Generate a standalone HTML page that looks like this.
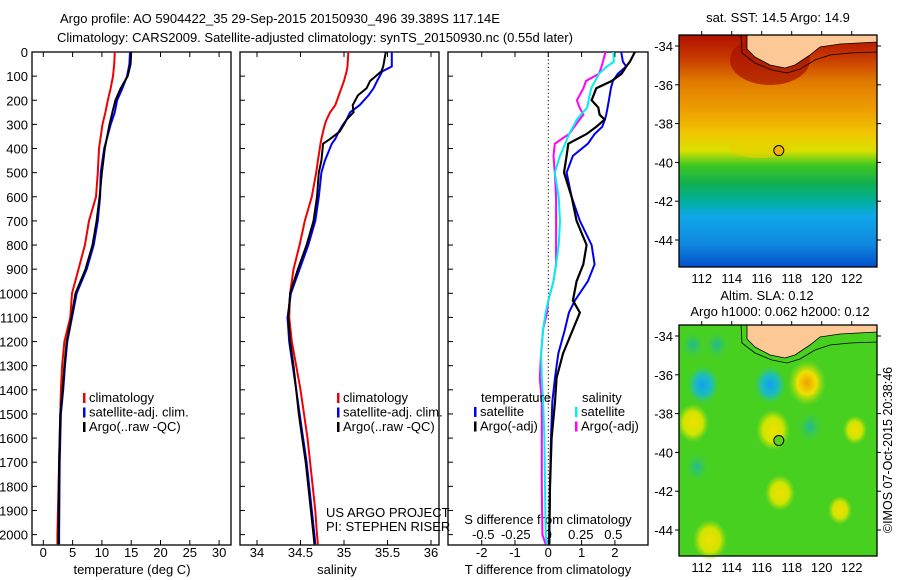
<!DOCTYPE html>
<html><head><meta charset="utf-8"><style>
html,body{margin:0;padding:0;background:#fff}
svg{display:block;font-family:"Liberation Sans",sans-serif}
</style></head><body>
<svg id="fig" width="900" height="580" viewBox="0 0 900 580" xmlns="http://www.w3.org/2000/svg">
<defs>
<linearGradient id="sstg" x1="0" y1="0" x2="0" y2="1">
<stop offset="0" stop-color="#b01000"/>
<stop offset="0.1" stop-color="#c83a00"/>
<stop offset="0.2" stop-color="#e07a00"/>
<stop offset="0.33" stop-color="#eea000"/>
<stop offset="0.43" stop-color="#f0c800"/>
<stop offset="0.5" stop-color="#d8e000"/>
<stop offset="0.56" stop-color="#40c820"/>
<stop offset="0.64" stop-color="#10b050"/>
<stop offset="0.72" stop-color="#00b0a0"/>
<stop offset="0.78" stop-color="#10a8e8"/>
<stop offset="0.9" stop-color="#1088e0"/>
<stop offset="1" stop-color="#0050c8"/>
</linearGradient>
<radialGradient id="bblue"><stop offset="0" stop-color="#10a0f8"/><stop offset="0.55" stop-color="#20c0b0"/><stop offset="1" stop-color="#40d030" stop-opacity="0"/></radialGradient>
<radialGradient id="bteal"><stop offset="0" stop-color="#20b8a0"/><stop offset="1" stop-color="#40d030" stop-opacity="0"/></radialGradient>
<radialGradient id="byel"><stop offset="0" stop-color="#f0e000"/><stop offset="0.6" stop-color="#d0e400"/><stop offset="1" stop-color="#a0e010" stop-opacity="0"/></radialGradient>
<radialGradient id="borg"><stop offset="0" stop-color="#f0a000"/><stop offset="0.5" stop-color="#f0e000"/><stop offset="1" stop-color="#a0e010" stop-opacity="0"/></radialGradient>
</defs>
<g id="titles" font-size="13" fill="#000">
<text x="60" y="23">Argo profile: AO 5904422_35 29-Sep-2015 20150930_496 39.389S 117.14E</text>
<text x="57" y="42">Climatology: CARS2009. Satellite-adjusted climatology: synTS_20150930.nc (0.55d later)</text>
<text x="778" y="22" text-anchor="middle">sat. SST: 14.5  Argo: 14.9</text>
<text x="767" y="300" text-anchor="middle">Altim. SLA: 0.12</text>
<text x="780" y="316" text-anchor="middle">Argo h1000: 0.062 h2000: 0.12</text>
<text transform="translate(892,450) rotate(-90)" text-anchor="middle" font-size="12.5">©IMOS 07-Oct-2015 20:38:46</text>
</g>
<g id="panels"></g>
<g id="maps"></g>
</svg>
<script>
// ---- data ----
const depthsT = [0,50,100,150,200,250,300,400,500,600,700,800,900,1000,1100,1200,1300,1400,1500,1700,2000,2040];
const tempClim = [12.2,12.1,11.9,11.5,11.0,10.6,10.1,9.5,9.3,9.0,7.8,7.1,6.0,4.9,4.6,3.6,3.2,3.0,2.9,2.7,2.4,2.4];
const tempSat  = [14.8,14.7,14.3,13.5,12.6,12.2,11.5,10.4,9.8,9.7,9.3,8.6,7.4,5.7,4.9,4.1,3.7,3.4,3.0,2.8,2.7,2.7];
const tempArgo = [15.0,14.9,14.4,13.2,12.3,11.8,11.3,10.5,10.0,9.6,9.1,8.4,7.2,5.5,4.8,4.0,3.6,3.3,2.9,2.7,2.6,2.6];
const depthsS = [0,60,80,120,150,180,220,250,280,300,330,360,380,450,500,600,700,800,900,1000,1100,1200,1300,1400,1500,1600,1700,1800,1900,2000,2040];
const salClim = [35.05,35.04,35.03,35.0,34.97,34.94,34.9,34.84,34.8,34.78,34.76,34.74,34.73,34.7,34.68,34.63,34.55,34.49,34.42,34.38,34.37,34.40,34.45,34.5,34.54,34.58,34.61,34.64,34.67,34.69,34.70];
const salSat  = [35.55,35.55,35.44,35.38,35.34,35.28,35.18,35.07,35.03,34.99,34.94,34.9,34.86,34.78,34.74,34.71,34.67,34.59,34.49,34.39,34.35,34.37,34.41,34.45,34.49,34.53,34.57,34.6,34.63,34.66,34.67];
const salArgo = [35.48,35.45,35.43,35.3,35.26,35.16,35.1,35.11,35.03,35.0,34.95,34.84,34.76,34.74,34.71,34.69,34.65,34.57,34.47,34.38,34.36,34.38,34.42,34.45,34.48,34.52,34.56,34.59,34.62,34.65,34.66];
const depthsD = [0,40,60,90,120,150,200,230,260,280,310,340,380,430,500,600,700,800,880,950,1030,1080,1150,1250,1350,1450,1600,1800,2000,2040];
const tdiffSat  = [2.19,2.24,2.34,2.09,1.94,1.88,1.82,1.78,1.74,1.7,1.62,1.39,1.19,0.74,0.55,0.7,0.95,1.3,1.39,1.19,0.8,0.62,0.5,0.3,0.2,0.12,0.08,0.05,0.03,0.03];
const tdiffArgo = [2.6,2.45,2.34,2.2,1.9,1.44,1.3,1.5,1.54,1.69,1.44,1.15,0.6,0.55,0.47,0.7,0.85,1.15,1.05,0.85,0.74,0.95,0.74,0.44,0.25,0.2,0.1,0.05,0.03,0.03];
const sdiffSat  = [0.5,0.505,0.45,0.39,0.36,0.33,0.31,0.3,0.25,0.22,0.19,0.16,0.13,0.09,0.05,0.08,0.09,0.08,0.06,0.04,0.0,-0.02,-0.04,-0.055,-0.05,-0.04,-0.03,-0.025,-0.02,-0.01];
const sdiffArgo = [0.44,0.42,0.41,0.39,0.29,0.27,0.22,0.24,0.27,0.24,0.2,0.16,0.05,0.04,0.05,0.06,0.06,0.06,0.06,0.04,0.0,-0.01,-0.04,-0.055,-0.065,-0.05,-0.05,-0.05,-0.045,-0.02];
const depthTicks = [0,100,200,300,400,500,600,700,800,900,1000,1100,1200,1300,1400,1500,1600,1700,1800,1900,2000];
const tempTicks = [0,5,10,15,20,25,30];
const salTicks = [34,34.5,35,35.5,36];
const salTickLabels = ["34","34.5","35","35.5","36"];
const tdiffTicks = [-2,-1,0,1,2];
const sdiffTicks = [-0.5,-0.25,0,0.25,0.5];
const sdiffTickLabels = ["-0.5","-0.25","0","0.25","0.5"];
const lonTicks = [112,114,116,118,120,122];
const latTicks = [-34,-36,-38,-40,-42,-44];

// ---- scales ----
const NS="http://www.w3.org/2000/svg";
const PT=52, PB=545;
const yD = d => PT + d*0.2413;
const xT = v => 43.3 + v*5.86;
const xS = v => 257 + (v-34)*87;
const xTd = v => 548.3 + v*33.3;
const xSd = v => 548.3 + v*130;
function el(tag, attrs, parent){const e=document.createElementNS(NS,tag);for(const k in attrs)e.setAttribute(k,attrs[k]);parent.appendChild(e);return e;}
const panels=document.getElementById('panels');
function txt(x,y,s,anchor,parent,size){const t=el('text',{x:x,y:y,'font-size':size||13,'text-anchor':anchor||'start'},parent);t.textContent=s;return t;}

function frame(x0,x1,name){
  const r=el('rect',{x:x0,y:PT,width:x1-x0,height:PB-PT,fill:'none',stroke:'#000','stroke-width':1.3},panels);
  
  
  depthTicks.forEach(d=>{el('line',{x1:x0,x2:x0+5,y1:yD(d),y2:yD(d),stroke:'#000'},panels);});
}
function line(xs, ys, xf, color, name, w){
  const pts=xs.map((v,i)=>xf(v).toFixed(1)+','+yD(ys[i]).toFixed(1)).join(' ');
  const p=el('polyline',{points:pts,fill:'none',stroke:color,'stroke-width':w||2},panels);
  
  
}
function xticks(x0,ticks,labels,xf,y,name){
  const g=el('g',{},panels);
  
  
  ticks.forEach((v,i)=>{
    el('line',{x1:xf(v),x2:xf(v),y1:PB,y2:PB-5,stroke:'#000'},g);
    el('line',{x1:xf(v),x2:xf(v),y1:PT,y2:PT+5,stroke:'#000'},g);
    txt(xf(v),y,labels[i],'middle',g);
  });
}
function legend(x,y,items){
  items.forEach((it,i)=>{
    el('rect',{x:x,y:y+i*14.5-9,width:2.5,height:10,fill:it[0]},panels);
    const t=txt(x+6,y+i*14.5,it[1],'start',panels);
    
    
  });
}
const dl=el('g',{},panels);


depthTicks.forEach(d=>txt(28,yD(d)+5,String(d),'end',dl));

frame(32,231,'temperature-panel');
xticks(32,tempTicks,tempTicks.map(String),xT,557,'temperature-x-ticks');
txt(132,574,'temperature (deg C)','middle',panels);
line(tempClim,depthsT,xT,'#f00000','temp-climatology-line');
line(tempSat,depthsT,xT,'#0000f0','temp-satellite-line');
line(tempArgo,depthsT,xT,'#000','temp-argo-line');
legend(83,402,[['#f00000','climatology'],['#0000f0','satellite-adj. clim.'],['#000','Argo(..raw -QC)']]);

frame(240,439,'salinity-panel');
xticks(240,salTicks,salTickLabels,xS,557,'salinity-x-ticks');
txt(337,574,'salinity','middle',panels);
line(salClim,depthsS,xS,'#f00000','sal-climatology-line');
line(salSat,depthsS,xS,'#0000f0','sal-satellite-line');
line(salArgo,depthsS,xS,'#000','sal-argo-line');
legend(337,402,[['#f00000','climatology'],['#0000f0','satellite-adj. clim.'],['#000','Argo(..raw -QC)']]);
txt(326,517,'US ARGO PROJECT','start',panels);
txt(326,531,'PI: STEPHEN RISER','start',panels);

frame(448,648,'difference-panel');
el('line',{x1:xTd(0),x2:xTd(0),y1:PT,y2:PB,stroke:'#000','stroke-dasharray':'1.2,2.5'},panels);
xticks(448,tdiffTicks,tdiffTicks.map(String),xTd,557,'tdiff-x-ticks');
const sl=el('g',{},panels);


sdiffTicks.forEach((v,i)=>txt(xSd(v),539,sdiffTickLabels[i],'middle',sl));
txt(548,524,'S difference from climatology','middle',panels);
txt(548,574,'T difference from climatology','middle',panels);
line(tdiffSat,depthsD,xTd,'#0000f0','tdiff-satellite-line');
line(tdiffArgo,depthsD,xTd,'#000','tdiff-argo-line',2.2);
line(sdiffArgo,depthsD,xSd,'#ff00ff','sdiff-argo-line');
line(sdiffSat,depthsD,xSd,'#00f0f0','sdiff-satellite-line');
txt(481,402,'temperature','start',panels);
txt(582,402,'salinity','start',panels);
legend(474,416,[['#0000f0','satellite'],['#000','Argo(-adj)']]);
legend(575,416,[['#00f0f0','satellite'],['#ff00ff','Argo(-adj)']]);

// ---- maps ----
const maps=document.getElementById('maps');
function mapFrame(y0,y1,name,fillFn,circleColor){
  const g=el('g',{},maps);
  
  
  const xL=679,xR=877;
  const lonX=v=>701.7+(v-112)*15;
  const latY0=y0+11;
  const k=19.4;
  const latY=v=>latY0+(-34-v)*k;
  fillFn(g,xL,xR,y0,y1,lonX,latY);
  const ly=v=>y0+v;
  el('path',{d:`M747,${ly(0)} L747,${ly(14)} L755,${ly(22)} L770,${ly(30)} L785,${ly(33)} L795,${ly(30)} L810,${ly(20)} L820,${ly(12)} L840,${ly(9)} L877,${ly(7)} L877,${ly(0)} Z`,fill:'#fcc896',stroke:'#000','stroke-width':0.8},g);
  el('path',{d:`M741,${ly(0)} L742,${ly(18)} L755,${ly(28)} L772,${ly(35)} L787,${ly(38)} L800,${ly(34)} L815,${ly(25)} L830,${ly(20)} L850,${ly(18)} L877,${ly(17)}`,fill:'none',stroke:'#000','stroke-width':0.8},g);
  el('rect',{x:xL,y:y0,width:xR-xL,height:y1-y0,fill:'none',stroke:'#000','stroke-width':1.3},g);
  lonTicks.forEach(v=>{el('line',{x1:lonX(v),x2:lonX(v),y1:y0,y2:y0-4,stroke:'#000'},g);txt(lonX(v),y1+16,String(v),'middle',g);});
  latTicks.forEach(v=>{el('line',{x1:xL,x2:xL-4,y1:latY(v),y2:latY(v),stroke:'#000'},g);el('line',{x1:xR,x2:xR+4,y1:latY(v),y2:latY(v),stroke:'#000'},g);txt(xL-6,latY(v)+5,String(v),'end',g);});
  const c=el('circle',{cx:lonX(117.14),cy:latY(-39.389),r:5,fill:circleColor,stroke:'#000'},g);
  
  
}
mapFrame(35,267,'sst-map',(g,xL,xR,y0,y1)=>{
  el('rect',{x:xL,y:y0,width:xR-xL,height:y1-y0,fill:'url(#sstg)'},g);
  el('ellipse',{cx:770,cy:60,rx:40,ry:25,fill:'#a81000',opacity:0.7},g);
  el('ellipse',{cx:760,cy:148,rx:30,ry:10,fill:'#e8d000',opacity:0.6},g);
},'#f0b400');
mapFrame(325,556,'sla-map',(g,xL,xR,y0,y1)=>{
  el('rect',{x:xL,y:y0,width:xR-xL,height:y1-y0,fill:'#48d020'},g);
  const blobs=[[703,385,17,'bblue'],[770,385,17,'bblue'],[807,383,19,'borg'],[810,427,14,'bteal'],[693,423,16,'byel'],[773,430,17,'byel'],[780,493,15,'byel'],[710,540,17,'byel'],[697,467,13,'bteal'],[693,345,13,'bteal'],[717,345,13,'bteal'],[855,430,12,'byel'],[840,510,12,'byel']];
  blobs.forEach(b=>el('ellipse',{cx:b[0],cy:b[1],rx:b[2],ry:b[2]*1.2,fill:'url(#'+b[3]+')'},g));
},'#60d020');
</script>
</body></html>
